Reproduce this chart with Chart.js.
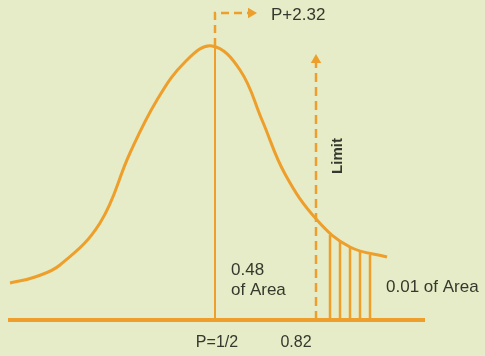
<!DOCTYPE html>
<html>
<head>
<meta charset="utf-8">
<script src="https://cdn.jsdelivr.net/npm/chart.js@4"></script>
<style>
  html, body { margin: 0; padding: 0; background: #e5ecc7; }
  #wrap { width: 485px; height: 356px; }
</style>
</head>
<body>
<div id="wrap"><canvas id="curve"></canvas></div>
<script>
// bell curve, heights measured above the base line
const curveX = [10, 35, 60, 100, 130, 157, 185, 212, 240, 262, 285, 317, 350, 387]
const curveY = [37, 43, 55, 97, 167, 220, 258, 274, 250, 200, 146, 100, 73, 63]

// shaded tail (0.01 of area)
const hatchX = [330, 340, 350, 360, 370]
const hatchY = [85, 79, 73, 69, 65]

const baseX = [8, 425]
const meanX = 215
const meanTop = 274
const markTop = 307
const markArrowX = 250
const limitX = 316
const limitTop = 257

const orange = "#ee9f2b"
const ink = "#35382c"

function pts(xs, ys){
    return xs.map((x, i) => ({x: x, y: ys[i]}))
}

function hatchPts(){
    var out = []
    hatchX.forEach((x, i) => {
        out.push({x: x, y: 0})
        out.push({x: x, y: hatchY[i]})
        out.push({x: NaN, y: NaN})
    })
    return out
}

const textPlugin = {
    id: "texts",
    beforeDraw(chart){
        var c = chart.ctx
        c.save()
        c.fillStyle = "#e5ecc7"
        c.fillRect(0, 0, chart.width, chart.height)
        c.restore()
    },
    afterDatasetsDraw(chart){
        var c = chart.ctx
        var sx = chart.scales.x, sy = chart.scales.y
        function put(t, x, y, align){
            c.textAlign = align || "left"
            c.fillText(t, sx.getPixelForValue(x), sy.getPixelForValue(y))
        }
        c.save()
        c.fillStyle = ink
        c.textBaseline = "middle"
        c.font = "17px 'Liberation Sans', Arial, sans-serif"
        put("P+2.32", 271, 305)
        put("0.48", 231, 50)
        put("of Area", 231, 30)
        put("0.01 of Area", 386, 33)
        c.font = "16px 'Liberation Sans', Arial, sans-serif"
        put("P=1/2", 217, -23, "center")
        put("0.82", 296, -23, "center")
        // rotated label next to the limit line
        c.font = "bold 15px 'Liberation Sans', Arial, sans-serif"
        c.translate(sx.getPixelForValue(338), sy.getPixelForValue(164))
        c.rotate(-Math.PI / 2)
        c.textAlign = "center"
        c.fillText("Limit", 0, 0)
        c.restore()
    }
}

new Chart(document.getElementById("curve"), {
    type: "scatter",
    data: {
        datasets: [
            { // base line
                data: pts(baseX, [0, 0]), showLine: true,
                borderColor: orange, borderWidth: 4, pointRadius: 0
            },
            { // mean line
                data: pts([meanX, meanX], [0, meanTop]), showLine: true,
                borderColor: orange, borderWidth: 2, pointRadius: 0
            },
            { // dashed marker above the peak
                data: pts([meanX, meanX, markArrowX], [meanTop, markTop, markTop]), showLine: true,
                borderColor: orange, borderWidth: 2.5, borderDash: [8, 5], pointRadius: 0
            },
            { // limit line
                data: pts([limitX, limitX], [0, limitTop]), showLine: true,
                borderColor: orange, borderWidth: 2.5, borderDash: [9, 5], pointRadius: 0
            },
            { // tail hatching
                data: hatchPts(), showLine: true, spanGaps: false,
                borderColor: orange, borderWidth: 2.5, pointRadius: 0
            },
            { // curve
                data: pts(curveX, curveY), showLine: true, tension: 0.4,
                borderColor: orange, borderWidth: 3, pointRadius: 0
            },
            { // arrow heads
                data: pts([markArrowX + 1, limitX], [markTop, limitTop + 3]),
                pointStyle: "triangle", pointRadius: 6, rotation: [90, 0],
                backgroundColor: orange, borderColor: orange, borderWidth: 0
            }
        ]
    },
    options: {
        responsive: true,
        maintainAspectRatio: false,
        devicePixelRatio: 1,
        animation: false,
        layout: { padding: 0, autoPadding: false },
        clip: false,
        plugins: { legend: { display: false }, tooltip: { enabled: false } },
        scales: {
            x: { type: "linear", min: 0, max: 485, display: false },
            y: { type: "linear", min: -36, max: 320, display: false }
        }
    },
    plugins: [textPlugin]
})
</script>
</body>
</html>
